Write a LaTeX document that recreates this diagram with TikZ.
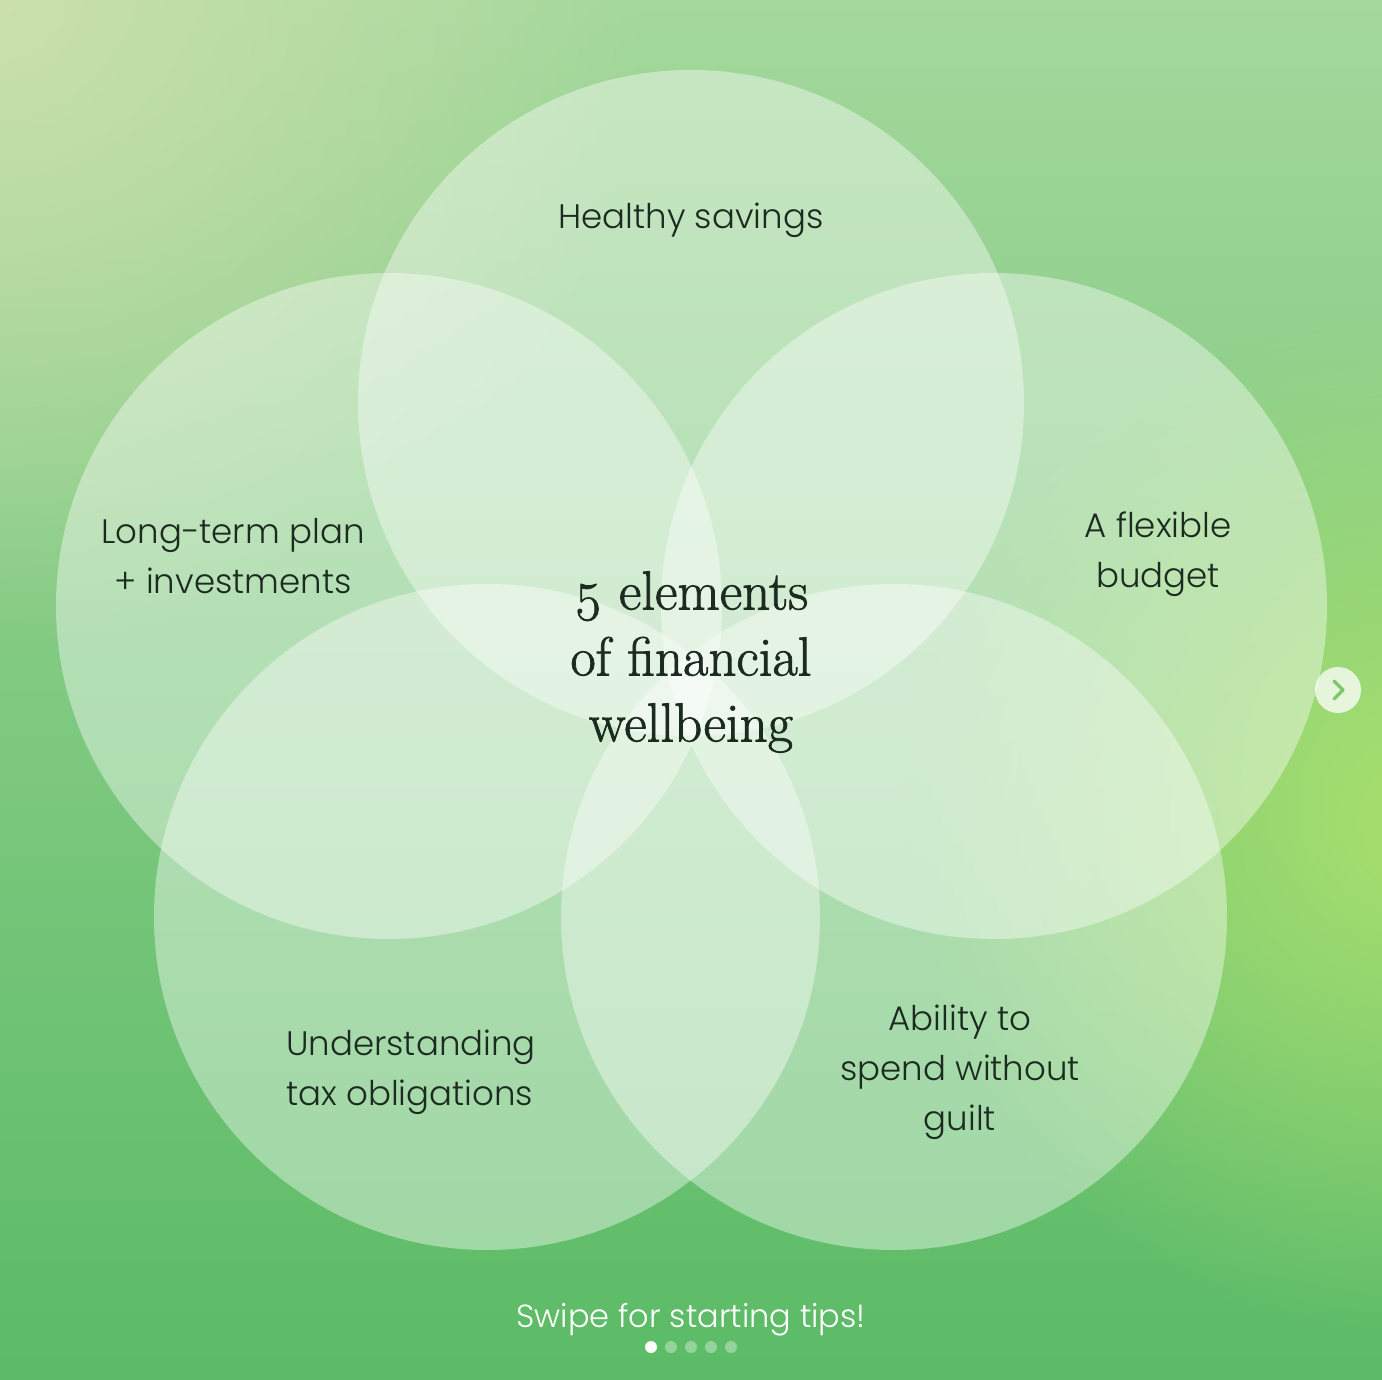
\documentclass[tikz,border=0pt]{standalone}
\usepackage{fontspec}
\setmainfont{Poppins}[UprightFont=* Light]
\newfontfamily\centerfont[Numbers=OldStyle, FakeBold=1.4]{Latin Modern Roman}
\usetikzlibrary{fadings}
\definecolor{bgtop}{HTML}{A4D89C}
\definecolor{bgmid}{HTML}{80D088}
\definecolor{bgbot}{HTML}{5BBB66}
\definecolor{tlglow}{HTML}{CBE0AC}
\definecolor{lime}{HTML}{A8E06C}
\definecolor{ink}{HTML}{1C2B1F}
\definecolor{chev}{HTML}{7CCB6A}
\tikzfading[name=glowfade, inner color=transparent!0, outer color=transparent!100]
\tikzset{
  petal/.style={circle, fill=white, fill opacity=0.40, minimum size=666pt, inner sep=0pt, draw=none},
  lbl/.style={font=\fontsize{34}{50}\selectfont, text=ink, align=center, inner sep=0pt},
  ctr/.style={font=\centerfont\fontsize{55}{66}\selectfont, text=ink, align=center, inner sep=0pt},
  dot/.style={circle, fill=white, minimum size=12pt, inner sep=0pt},
}
\begin{document}
\begin{tikzpicture}[x=1pt,y=-1pt]
\useasboundingbox (0,0) rectangle (1382,1380);
% background
\shade[top color=bgtop, middle color=bgmid, bottom color=bgbot] (0,0) rectangle (1382,1380);
\begin{scope}
\clip (0,0) rectangle (1382,1380);
\fill[tlglow, path fading=glowfade] (0,0) circle (650);
\fill[lime, path fading=glowfade] (1420,820) circle (520);
\end{scope}
% petals
\node[petal] (top) at (691,403) {};
\node[petal] (left) at (389,606) {};
\node[petal] (right) at (994,606) {};
\node[petal] (bl) at (487,917) {};
\node[petal] (br) at (894,917) {};
% labels
\node[lbl] (ltop) at (691,220) {Healthy savings};
\node[lbl] (lleft) at (233,556) {Long-term plan\\+ investments};
\node[lbl] (lright) at (1158,554) {A flexible\\budget};
\node[lbl, align=left] (lbl1) at (411,1072) {Understanding\\tax obligations};
\node[lbl] (lbr) at (960,1072) {Ability to\\spend without\\guilt};
\node[ctr] (center) at (691,662) {5 elements\\of financial\\wellbeing};
% footer
\node[lbl, text=white, font=\fontsize{32}{40}\selectfont] (swipe) at (691,1320) {Swipe for starting tips!};
\node[dot] (d1) at (651,1347) {};
\node[dot, fill opacity=0.35] (d2) at (671,1347) {};
\node[dot, fill opacity=0.35] (d3) at (691,1347) {};
\node[dot, fill opacity=0.35] (d4) at (711,1347) {};
\node[dot, fill opacity=0.35] (d5) at (731,1347) {};
% next button
\node[circle, fill=white, fill opacity=0.75, minimum size=46pt, inner sep=0pt] (next) at (1338,690) {};
\coordinate (ca) at ([xshift=-4pt,yshift=9pt]next.center);
\coordinate (cb) at ([xshift=5pt]next.center);
\coordinate (cc) at ([xshift=-4pt,yshift=-9pt]next.center);
\draw[chev, line width=3.5pt, line cap=round, line join=round] (ca) -- (cb) -- (cc);
\end{tikzpicture}
\end{document}
